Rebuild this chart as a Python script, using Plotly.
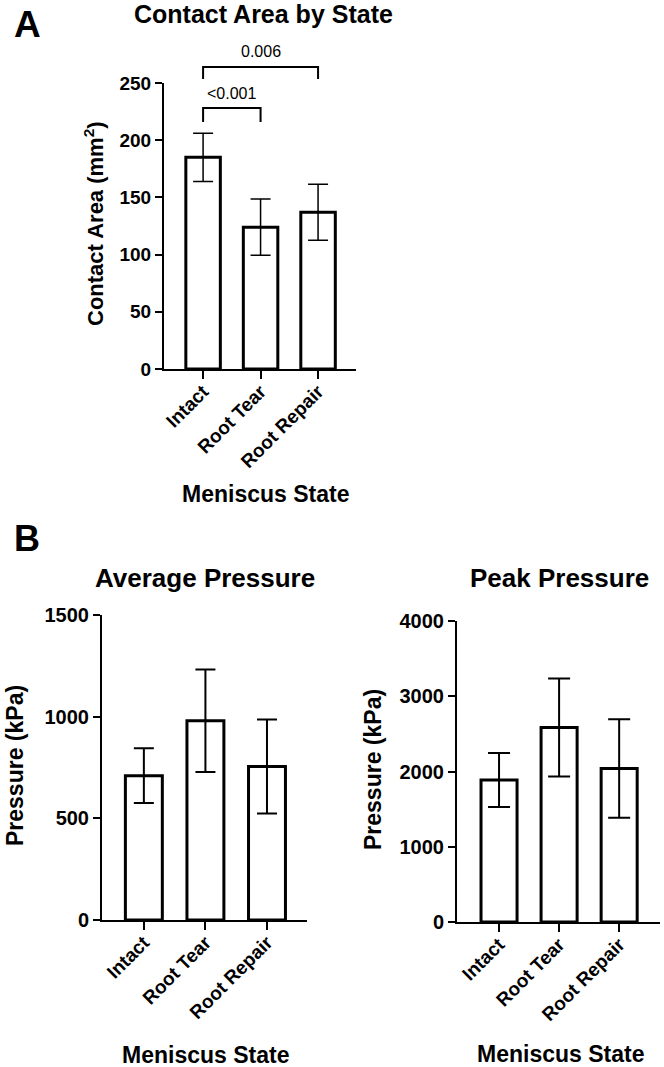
import plotly.graph_objects as go

# ---------------- data ----------------
categories = ["Intact", "Root Tear", "Root Repair"]

contact_area_mean = [185, 124, 137]
contact_area_sd = [21, 24.5, 24.5]

avg_pressure_mean = [710, 980, 755]
avg_pressure_sd = [135, 252, 231]

peak_pressure_mean = [1887, 2585, 2040]
peak_pressure_sd = [360, 650, 655]

contact_ticks = [0, 50, 100, 150, 200, 250]
avg_ticks = [0, 500, 1000, 1500]
peak_ticks = [0, 1000, 2000, 3000, 4000]

comparisons = [  # (from, to, label)
    (0, 1, "<0.001"),
    (0, 2, "0.006"),
]

# ---------------- layout helpers ----------------
W, H = 664, 1067
FONT = "Liberation Sans, Arial, Helvetica, sans-serif"


def px(x):
    return x / W


def py(y):
    return 1 - y / H


xpos = list(range(len(categories)))

fig = go.Figure()


def add_bars(means, sds, xa, ya, cap, thick):
    fig.add_trace(go.Bar(
        x=xpos, y=means, width=0.6,
        marker=dict(color="white", line=dict(color="black", width=3)),
        error_y=dict(type="data", array=sds, visible=True, color="black",
                     thickness=thick, width=cap),
        xaxis=xa, yaxis=ya, showlegend=False, hoverinfo="skip",
    ))


add_bars(contact_area_mean, contact_area_sd, "x", "y", 10, 1.5)
add_bars(avg_pressure_mean, avg_pressure_sd, "x2", "y2", 10, 2)
add_bars(peak_pressure_mean, peak_pressure_sd, "x3", "y3", 11, 2)


def xax(domain, rng, anchor, size):
    return dict(
        domain=domain, range=rng, anchor=anchor,
        tickmode="array", tickvals=xpos, ticktext=categories,
        tickangle=-45, ticks="outside", ticklen=8, tickwidth=2, tickcolor="black",
        ticklabelstandoff=-6,
        showline=True, linewidth=2, linecolor="black",
        showgrid=False, zeroline=False, automargin=False,
        tickfont=dict(family=FONT, size=size, color="black", weight="bold"),
        fixedrange=True,
    )


def yax(domain, rng, anchor, tickvals, size):
    return dict(
        domain=domain, range=rng, anchor=anchor,
        tickmode="array", tickvals=tickvals,
        ticks="outside", ticklen=7, tickwidth=2, tickcolor="black",
        showline=True, linewidth=2, linecolor="black",
        showgrid=False, zeroline=False, automargin=False,
        tickfont=dict(family=FONT, size=size, color="black", weight="bold"),
        fixedrange=True,
    )


layout = dict(
    width=W, height=H,
    margin=dict(l=0, r=0, t=0, b=0),
    paper_bgcolor="white", plot_bgcolor="white",
    showlegend=False,
    xaxis=xax([px(164), px(356)], [-0.68, 2.66], "y", 19),
    yaxis=yax([py(369), py(83)], [0, 250], "x", contact_ticks, 19),
    xaxis2=xax([px(102), px(307)], [-0.68, 2.65], "y2", 19),
    yaxis2=yax([py(920), py(615)], [0, 1500], "x2", avg_ticks, 20),
    xaxis3=xax([px(457), px(660)], [-0.7, 2.68], "y3", 19),
    yaxis3=yax([py(922), py(621)], [0, 4000], "x3", peak_ticks, 20),
)
fig.update_layout(**layout)

ann = []


def text(x, y, s, size, bold=True, angle=0, xref="paper", xanchor="center"):
    ann.append(dict(
        x=x, y=py(y), xref=xref, yref="paper", text=s, showarrow=False,
        textangle=angle, xanchor=xanchor, yanchor="middle",
        font=dict(family=FONT, size=size, color="black",
                  weight="bold" if bold else "normal"),
    ))


# panel letters
text(px(27), 24, "A", 37)
text(px(27), 538, "B", 36)

# titles
text(px(263), 14, "Contact Area by State", 25)
text(px(205), 578, "Average Pressure", 26)
text(px(559), 578, "Peak Pressure", 26)

# axis titles
text(px(94), 224, "Contact Area (mm<sup>2</sup>)", 22, angle=-90)
text(px(265), 494, "Meniscus State", 23)
text(px(15), 766, "Pressure (kPa)", 23, angle=-90)
text(px(205), 1055, "Meniscus State", 23)
text(px(373), 770, "Pressure (kPa)", 23, angle=-90)
text(px(560), 1054, "Meniscus State", 23)

# significance brackets (panel A)
bracket_rows = [(108, 122, 94), (67, 79, 52)]  # (bar y, leg end y, label y) in px
shapes = []
for (a, b, label), (ybar, yleg, ylab) in zip(comparisons, bracket_rows):
    shapes.append(dict(
        type="path", xref="x", yref="paper",
        path=f"M {a},{py(yleg)} L {a},{py(ybar)} L {b},{py(ybar)} L {b},{py(yleg)}",
        line=dict(color="black", width=2),
    ))
    ann.append(dict(
        x=(a + b) / 2, y=py(ylab), xref="x", yref="paper", text=label,
        showarrow=False, xanchor="center", yanchor="middle",
        font=dict(family=FONT, size=16, color="black"),
    ))

fig.update_layout(annotations=ann, shapes=shapes)

fig.write_html(
    "out.html",
    config={"displayModeBar": False},
    post_script="document.body.style.margin='0';document.body.style.padding='0';",
)
